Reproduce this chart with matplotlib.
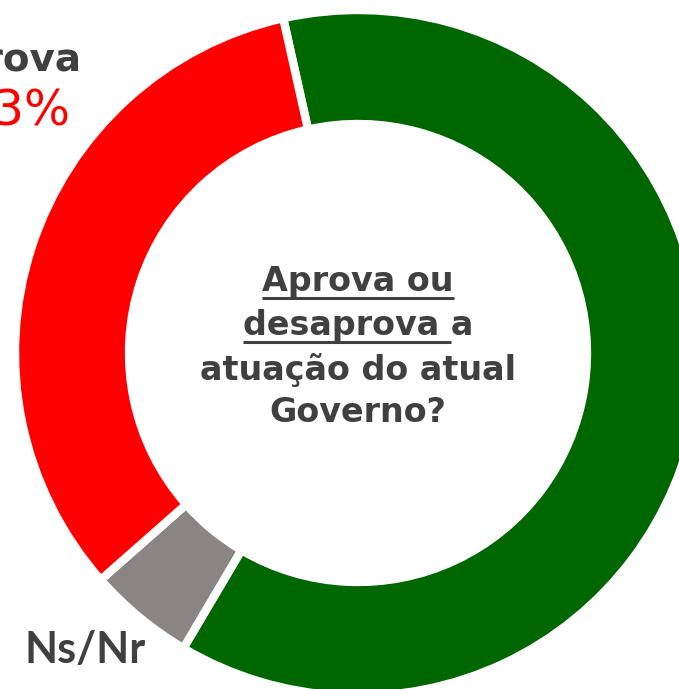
import matplotlib
matplotlib.use("Agg")
import matplotlib.pyplot as plt

# approval of the current government
labels = ["Aprova", "Ns/Nr", "Desaprova"]
values = [62, 5, 33]
colors = ["#006600", "#8a8584", "#ff0000"]

text_color = "#404040"

W, H = 679, 689
fig = plt.figure(figsize=(W / 100, H / 100), dpi=100)
ax = fig.add_axes([0, 0, 1, 1])

# work in pixel units, y measured from the bottom
cx, cy = 358, H - 353
outer_r, ring = 343, 114

ax.pie(values, colors=colors, startangle=102.6, counterclock=False,
       radius=outer_r, center=(cx, cy),
       wedgeprops=dict(width=ring, edgecolor="white", linewidth=6))
ax.set_xlim(0, W)
ax.set_ylim(0, H)
ax.set_aspect("equal")
ax.axis("off")

# outside labels (the ring runs off the canvas, so these are clipped too)
ax.text(81, H - 60, "Desaprova", ha="right", va="center", fontsize=28,
        fontweight="bold", color=text_color, family="DejaVu Sans")
ax.text(70, H - 112, f"{values[2]}%", ha="right", va="center", fontsize=35,
        color="#ff0000", family="DejaVu Sans")
ax.text(24, H - 650, "Ns/Nr", ha="left", va="center", fontsize=31,
        fontweight="bold", color=text_color, family="Lato")

# centre question, with the first words underlined
lines = ["Aprova ou", "desaprova a", "atuação do atual", "Governo?"]
ys = [282, 326, 370, 413]
fs = 24
txts = []
for s, y in zip(lines, ys):
    t = ax.text(cx, H - y, s, ha="center", va="center", fontsize=fs,
                fontweight="bold", color=text_color, family="DejaVu Sans")
    txts.append(t)

fig.canvas.draw()
renderer = fig.canvas.get_renderer()
inv = ax.transData.inverted()


def width_of(s):
    tmp = ax.text(0, 0, s, fontsize=fs, fontweight="bold", family="DejaVu Sans")
    bb = tmp.get_window_extent(renderer)
    tmp.remove()
    return bb.width


# "Aprova ou": whole line
bb = txts[0].get_window_extent(renderer)
(x0, y0), (x1, _) = inv.transform([(bb.x0, bb.y0), (bb.x1, bb.y1)])
ax.plot([x0, x1], [H - 298, H - 298], color=text_color, lw=2.2,
        solid_capstyle="butt")

# "desaprova " only
bb = txts[1].get_window_extent(renderer)
(x0, _), (x1, _) = inv.transform([(bb.x0, bb.y0), (bb.x1, bb.y1)])
x1 -= width_of("a")
ax.plot([x0, x1], [H - 342, H - 342], color=text_color, lw=2.2,
        solid_capstyle="butt")

fig.savefig("out.png", dpi=100)
